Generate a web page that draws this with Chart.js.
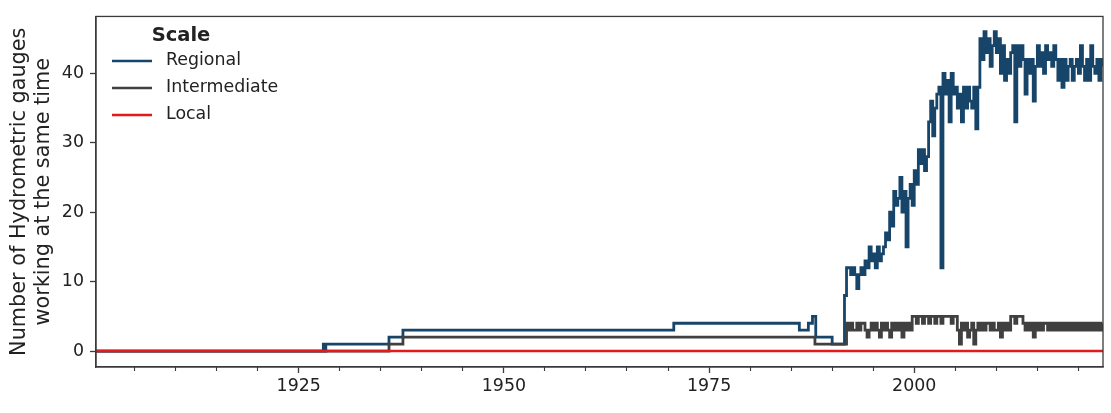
<!DOCTYPE html>
<html><head><meta charset="utf-8">
<script src="https://cdn.jsdelivr.net/npm/chart.js@4.4.1/dist/chart.umd.min.js"></script>
<style>html,body{margin:0;padding:0;background:#fff;}canvas{display:block;}</style>
</head><body>
<canvas id="c" width="1111" height="413"></canvas>
<script>
const seriesNames = ['Regional', 'Intermediate', 'Local'];
const seriesColors = ['#17456a', '#404040', '#e31a1c'];
const legendTitle = 'Scale';
const yAxisTitle = ['Number of Hydrometric gauges', 'working at the same time'];
const xMajorTicks = [1925, 1950, 1975, 2000];
const xMinorTicks = [1905, 1910, 1915, 1920, 1930, 1935, 1940, 1945, 1955, 1960, 1965, 1970, 1980, 1985, 1990, 1995, 2005, 2010, 2015, 2020];
const yTicks = [0, 10, 20, 30, 40];

// early (sparse) part of the series: [year of change, new value]
const earlyRegionalYears  = [1900.3, 1928.0, 1928.15, 1928.3, 1936.0, 1937.7, 1970.7, 1986.0, 1987.1, 1987.6, 1988.0, 1990.0];
const earlyRegionalValues = [0, 1, 0, 1, 2, 3, 4, 3, 4, 5, 2, 1];
const earlyIntermediateYears  = [1900.3, 1936.0, 1937.7, 1987.9];
const earlyIntermediateValues = [0, 1, 2, 1];

// dense part (quarter years)
const denseYears = [
  1991.5, 1991.75,
  1992, 1992.25, 1992.5, 1992.75, 1993, 1993.25, 1993.5, 1993.75,
  1994, 1994.25, 1994.5, 1994.75, 1995, 1995.25, 1995.5, 1995.75,
  1996, 1996.25, 1996.5, 1996.75, 1997, 1997.25, 1997.5, 1997.75,
  1998, 1998.25, 1998.5, 1998.75, 1999, 1999.25, 1999.5, 1999.75,
  2000, 2000.25, 2000.5, 2000.75, 2001, 2001.25, 2001.5, 2001.75,
  2002, 2002.25, 2002.5, 2002.75, 2003, 2003.25, 2003.5, 2003.75,
  2004, 2004.25, 2004.5, 2004.75, 2005, 2005.25, 2005.5, 2005.75,
  2006, 2006.25, 2006.5, 2006.75, 2007, 2007.25, 2007.5, 2007.75,
  2008, 2008.25, 2008.5, 2008.75, 2009, 2009.25, 2009.5, 2009.75,
  2010, 2010.25, 2010.5, 2010.75, 2011, 2011.25, 2011.5, 2011.75,
  2012, 2012.25, 2012.5, 2012.75, 2013, 2013.25, 2013.5, 2013.75,
  2014, 2014.25, 2014.5, 2014.75, 2015, 2015.25, 2015.5, 2015.75,
  2016, 2016.25, 2016.5, 2016.75, 2017, 2017.25, 2017.5, 2017.75,
  2018, 2018.25, 2018.5, 2018.75, 2019, 2019.25, 2019.5, 2019.75,
  2020, 2020.25, 2020.5, 2020.75, 2021, 2021.25, 2021.5, 2021.75,
  2022, 2022.25, 2022.5, 2022.75, 2023
];
const denseRegional = [
  8, 12,
  12, 11, 12, 11, 9, 11, 12, 11,
  13, 12, 15, 13, 14, 12, 15, 13,
  14, 15, 17, 16, 20, 18, 23, 21,
  22, 25, 20, 23, 15, 22, 24, 21,
  26, 24, 29, 27, 29, 26, 28, 33,
  36, 31, 35, 37, 38, 12, 40, 37,
  39, 33, 40, 37, 38, 35, 37, 33,
  38, 35, 38, 36, 35, 38, 32, 38,
  45, 42, 46, 43, 45, 41, 44, 46,
  43, 45, 40, 44, 39, 42, 40, 43,
  44, 33, 44, 41, 44, 42, 37, 42,
  40, 42, 36, 41, 44, 41, 43, 40,
  44, 42, 43, 41, 44, 42, 39, 42,
  38, 42, 39, 41, 42, 39, 41, 42,
  40, 44, 41, 39, 42, 39, 44, 41,
  40, 42, 39, 42, 41
];
const denseIntermediate = [
  1, 4,
  3, 4, 3, 3, 4, 3, 4, 4,
  3, 2, 3, 4, 3, 4, 3, 2,
  4, 3, 4, 3, 2, 4, 3, 4,
  3, 4, 2, 4, 3, 4, 3, 5,
  5, 4, 5, 5, 4, 5, 5, 4,
  5, 5, 4, 5, 5, 4, 5, 5,
  5, 5, 4, 5, 5, 3, 1, 4,
  3, 4, 2, 3, 4, 1, 3, 4,
  3, 4, 3, 4, 4, 3, 4, 3,
  3, 4, 2, 4, 3, 4, 3, 5,
  5, 4, 5, 5, 5, 4, 3, 4,
  3, 4, 2, 4, 3, 4, 3, 4,
  4, 3, 4, 3, 4, 3, 4, 3,
  4, 3, 4, 3, 4, 3, 4, 3,
  4, 3, 4, 3, 4, 3, 4, 3,
  4, 3, 4, 3, 4
];
const localYears  = [1900.3, 2023.0];
const localValues = [0, 0];

function toPoints(xs, ys) { return xs.map((x, i) => ({ x: x, y: ys[i] })); }

const regionalPoints = toPoints(earlyRegionalYears.concat(denseYears), earlyRegionalValues.concat(denseRegional));
const intermediatePoints = toPoints(earlyIntermediateYears.concat(denseYears), earlyIntermediateValues.concat(denseIntermediate));
const localPoints = toPoints(localYears, localValues);

const FONT = 'DejaVu Sans';
const TXT = '#222222';
const SPINE = '#3a3a3a';

const framePlugin = {
  id: 'frame',
  afterDatasetsDraw(chart) {
    const { ctx, chartArea: a } = chart;
    ctx.save();
    ctx.strokeStyle = SPINE;
    ctx.lineWidth = 1.3;
    ctx.strokeRect(a.left, a.top, a.right - a.left, a.bottom - a.top);
    ctx.restore();
  }
};

const legendPlugin = {
  id: 'insideLegend',
  afterDraw(chart) {
    const { ctx, chartArea: a } = chart;
    ctx.save();
    ctx.fillStyle = TXT;
    ctx.font = 'bold 19.5px "' + FONT + '"';
    ctx.textAlign = 'center';
    ctx.textBaseline = 'middle';
    ctx.fillText(legendTitle, a.left + 85, a.top + 19);
    ctx.font = '17.4px "' + FONT + '"';
    ctx.textAlign = 'left';
    chart.data.datasets.forEach((ds, i) => {
      const y = a.top + 44.5 + i * 27;
      ctx.strokeStyle = ds.borderColor;
      ctx.lineWidth = 2.6;
      ctx.beginPath();
      ctx.moveTo(a.left + 16, y);
      ctx.lineTo(a.left + 56, y);
      ctx.stroke();
      ctx.fillStyle = TXT;
      ctx.fillText(ds.label, a.left + 70, y);
    });
    ctx.restore();
  }
};

new Chart(document.getElementById('c'), {
  type: 'line',
  data: {
    datasets: [
      { label: seriesNames[0], data: regionalPoints, borderColor: seriesColors[0], backgroundColor: seriesColors[0], borderWidth: 2.8, pointRadius: 0, stepped: true, order: 3 },
      { label: seriesNames[1], data: intermediatePoints, borderColor: seriesColors[1], backgroundColor: seriesColors[1], borderWidth: 2.8, pointRadius: 0, stepped: true, order: 2 },
      { label: seriesNames[2], data: localPoints, borderColor: seriesColors[2], backgroundColor: seriesColors[2], borderWidth: 2.6, pointRadius: 0, stepped: true, order: 1 }
    ]
  },
  options: {
    responsive: false,
    animation: false,
    devicePixelRatio: 1,
    layout: { padding: { left: 0, top: 11, right: 8, bottom: 0 } },
    plugins: { legend: { display: false }, tooltip: { enabled: false } },
    scales: {
      xMinor: {
        type: 'linear', position: 'bottom', weight: -1,
        min: 1900.3, max: 2023.0,
        afterBuildTicks: s => { s.ticks = xMinorTicks.map(v => ({ value: v })); },
        afterFit: s => { s.height = 0; },
        ticks: { display: false },
        grid: { display: true, drawOnChartArea: false, drawTicks: true, tickLength: 4, tickWidth: 1.1, tickColor: SPINE },
        border: { display: false }
      },
      x: {
        type: 'linear', position: 'bottom', weight: 0,
        min: 1900.3, max: 2023.0,
        afterBuildTicks: s => { s.ticks = xMajorTicks.map(v => ({ value: v })); },
        afterFit: s => { s.height = 46; },
        ticks: { font: { family: FONT, size: 17.4 }, color: TXT, padding: 3, maxRotation: 0, autoSkip: false, callback: v => String(v) },
        grid: { display: true, drawOnChartArea: false, drawTicks: true, tickLength: 6, tickWidth: 1.3, tickColor: SPINE },
        border: { display: true, color: SPINE, width: 1.3 }
      },
      y: {
        type: 'linear', position: 'left',
        min: -2.3, max: 48.2,
        afterBuildTicks: s => { s.ticks = yTicks.map(v => ({ value: v })); },
        afterFit: s => { s.width = 96; },
        ticks: { font: { family: FONT, size: 17.4 }, color: TXT, padding: 6, callback: v => String(v) },
        grid: { display: true, drawOnChartArea: false, drawTicks: true, tickLength: 6, tickWidth: 1.3, tickColor: SPINE },
        border: { display: true, color: SPINE, width: 1.3 },
        title: { display: true, text: yAxisTitle, font: { family: FONT, size: 20.8, lineHeight: 1.15 }, color: TXT, padding: { top: 8, bottom: 0 } }
      }
    }
  },
  plugins: [framePlugin, legendPlugin]
});
</script>
</body></html>
